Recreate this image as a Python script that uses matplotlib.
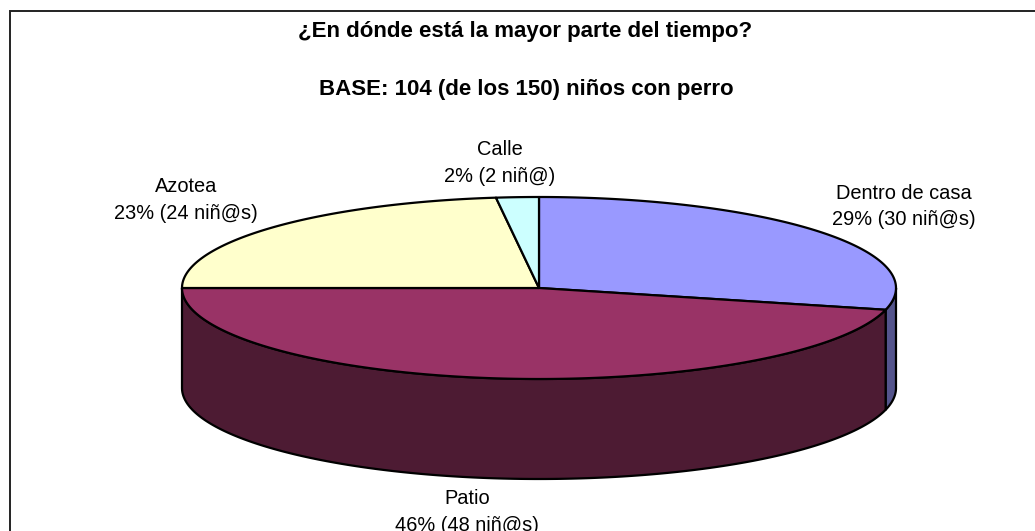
import numpy as np
import matplotlib
matplotlib.use("Agg")
import matplotlib.pyplot as plt

plt.rcParams["font.family"] = ["Liberation Sans", "DejaVu Sans"]

title_lines = ["¿En dónde está la mayor parte del tiempo?", "BASE: 104 (de los 150) niños con perro"]
categories = ["Dentro de casa", "Patio", "Azotea", "Calle"]
counts = [30, 48, 24, 2]
percents = [29, 46, 23, 2]
units = ["niñ@s", "niñ@s", "niñ@s", "niñ@"]
top_colors = ["#9999FF", "#993366", "#FFFFCC", "#CCFFFF"]
side_colors = ["#54548C", "#4D1B33", "#8C8C70", "#709090"]
label_pos = [(904, 206.5), (467, 512), (186, 200), (500, 163)]

# pie geometry in pixels
cx, cy = 539, 288
rx, ry = 357, 91
depth = 100
lw = 1.6


def ell_x(a):
    return cx + rx * np.sin(a)


def ell_y(a):
    return cy - ry * np.cos(a)


fig = plt.figure(figsize=(10.35, 5.31), dpi=100)
ax = fig.add_axes([0, 0, 1, 1])
ax.set_xlim(0, 1035)
ax.set_ylim(531, 0)
ax.axis("off")

# chart frame, runs off the picture at the bottom and right
ax.plot([9.5, 9.5, 1035], [531, 11, 11], color="#222222", lw=1.4, solid_joinstyle="miter")

# angles run clockwise from twelve o'clock
edges = np.radians(np.concatenate([[0], np.cumsum(counts)]) / sum(counts) * 360)

# side walls, only the part facing the viewer
for i in range(len(counts)):
    a0 = max(edges[i], np.pi / 2)
    a1 = min(edges[i + 1], 3 * np.pi / 2)
    if a1 <= a0:
        continue
    a = np.linspace(a0, a1, 200)
    xs = np.concatenate([ell_x(a), ell_x(a[::-1])])
    ys = np.concatenate([ell_y(a), ell_y(a[::-1]) + depth])
    ax.fill(xs, ys, facecolor=side_colors[i], edgecolor="black", lw=lw, joinstyle="round")

# top face
for i in range(len(counts)):
    a = np.linspace(edges[i], edges[i + 1], 200)
    xs = np.concatenate([[cx], ell_x(a)])
    ys = np.concatenate([[cy], ell_y(a)])
    ax.fill(xs, ys, facecolor=top_colors[i], edgecolor="black", lw=lw, joinstyle="round")

ax.text(525, 31, title_lines[0], ha="center", va="center", fontsize=16, fontweight="bold")
ax.text(526, 90, title_lines[1], ha="center", va="center", fontsize=16, fontweight="bold")

for name, n, p, u, (x, y) in zip(categories, counts, percents, units, label_pos):
    ax.text(x, y, f"{name}\n{p}% ({n} {u})", ha="center", va="center", fontsize=14.4, linespacing=1.5)

fig.savefig("out.png", dpi=100)
